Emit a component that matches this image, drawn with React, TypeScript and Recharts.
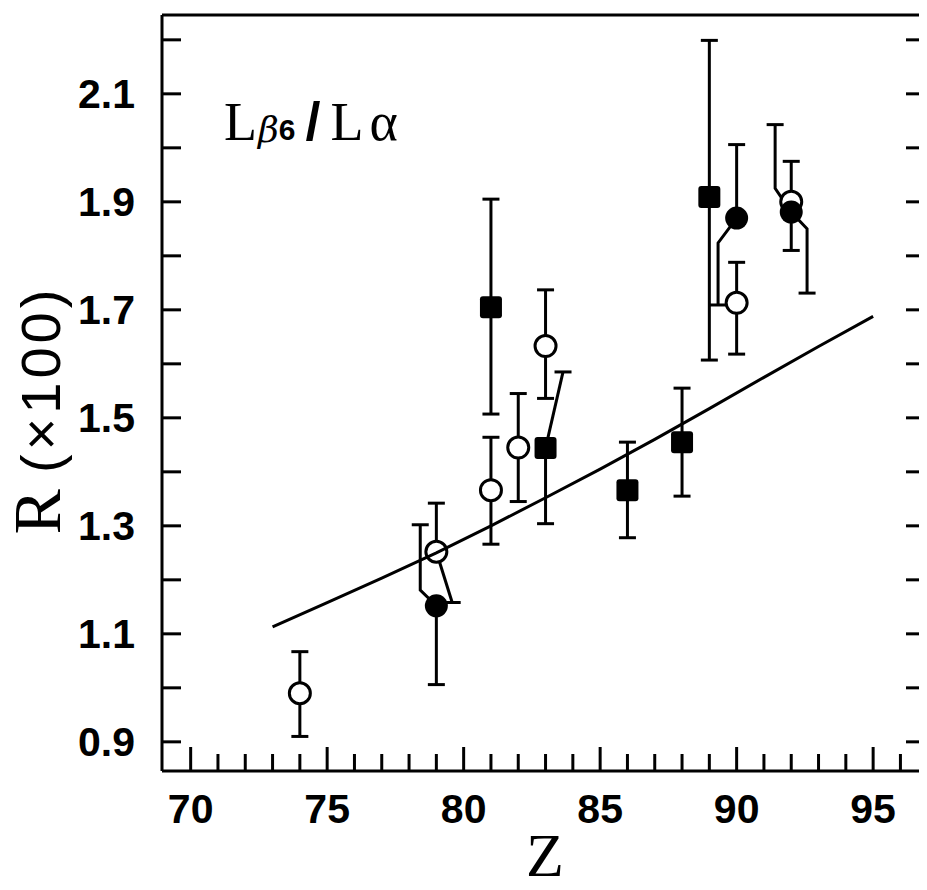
import React from 'react';
import {
  ScatterChart,
  Scatter,
  XAxis,
  YAxis,
  ErrorBar,
  Customized,
} from 'recharts';

// open circles
const openZ = [74, 79, 81, 82, 83, 90, 92];
const openR = [0.99, 1.252, 1.366, 1.445, 1.633, 1.713, 1.9];
const openLow = [0.08, 0, 0.1, 0.1, 0.097, 0.095, 0.09];
const openHigh = [0.077, 0.09, 0.098, 0.1, 0.104, 0.075, 0.075];

// filled circles
const filledZ = [79, 90, 92];
const filledR = [1.152, 1.87, 1.881];
const filledLow = [0.146, 0, 0];
const filledHigh = [0, 0.136, 0];

// filled squares
const squareZ = [81, 83, 86, 88, 89];
const squareR = [1.705, 1.444, 1.366, 1.455, 1.909];
const squareLow = [0.198, 0.14, 0.088, 0.1, 0.302];
const squareHigh = [0.2, 0, 0.089, 0.1, 0.29];

// error bars drawn beside the point (last point carries the cap)
const offsetZ = [
  [79, 79.58],
  [79, 78.41, 78.41],
  [83, 83.64],
  [90, 89.32, 89.32],
  [92, 91.41, 91.41],
  [92, 92.58, 92.58],
];
const offsetR = [
  [1.252, 1.158],
  [1.152, 1.181, 1.302],
  [1.444, 1.585],
  [1.87, 1.824, 1.709],
  [1.881, 1.925, 2.043],
  [1.881, 1.85, 1.731],
];

// calculated curve
const theoryZ = [73, 75, 77, 79, 81, 83, 85, 87, 89, 91, 93, 95];
const theoryR = [1.113, 1.158, 1.203, 1.25, 1.3, 1.352, 1.405, 1.46, 1.517, 1.575, 1.632, 1.688];

const xTicks = [70, 71, 72, 73, 74, 75, 76, 77, 78, 79, 80, 81, 82, 83, 84, 85, 86, 87, 88, 89, 90, 91, 92, 93, 94, 95, 96];
const yTicks = [0.9, 1.0, 1.1, 1.2, 1.3, 1.4, 1.5, 1.6, 1.7, 1.8, 1.9, 2.0, 2.1, 2.2];
const yLabels = ['0.9', '1.1', '1.3', '1.5', '1.7', '1.9', '2.1'];

const pts = (zs: number[], rs: number[], lo?: number[], hi?: number[]) =>
  zs.map((z, i) => ({ z, r: rs[i], err: lo && hi ? [lo[i], hi[i]] : undefined }));

const openData = pts(openZ, openR, openLow, openHigh);
const filledData = pts(filledZ, filledR, filledLow, filledHigh);
const squareData = pts(squareZ, squareR, squareLow, squareHigh);
const theoryData = pts(theoryZ, theoryR);
const offsetData = offsetZ.map((zs, k) =>
  zs.map((z, i) => ({ z, r: offsetR[k][i], cap: i === zs.length - 1 }))
);

const INK = '#000';
const SERIF = '"Liberation Serif", "Times New Roman", serif';
const SANS = '"Liberation Sans", Arial, sans-serif';
const tickFont = { fontFamily: SANS, fontWeight: 700, fontSize: 41 };

const OpenCircle = ({ cx, cy }: any) => (
  <circle cx={cx} cy={cy} r={10.5} fill="#fff" stroke={INK} strokeWidth={3} />
);
const FilledCircle = ({ cx, cy }: any) => <circle cx={cx} cy={cy} r={11.5} fill={INK} />;
const FilledSquare = ({ cx, cy }: any) => (
  <rect x={cx - 11} y={cy - 11} width={22} height={22} rx={3} fill={INK} />
);
const PathCap = ({ cx, cy, payload }: any) =>
  payload && payload.cap ? (
    <line x1={cx - 8.5} x2={cx + 8.5} y1={cy} y2={cy} stroke={INK} strokeWidth={3} />
  ) : (
    <g />
  );
const NoDot = () => <g />;

const BottomTick = ({ x, y, payload }: any) => {
  const v = payload.value;
  const major = v % 5 === 0;
  return (
    <g>
      <line x1={x} x2={x} y1={y} y2={y - (major ? 24 : 17)} stroke={INK} strokeWidth={3} />
      {major && (
        <text x={x} y={y + 52} textAnchor="middle" fill={INK} {...tickFont}>
          {v}
        </text>
      )}
    </g>
  );
};

const TopTick = ({ x, y, payload }: any) => {
  const major = payload.value % 5 === 0;
  return <line x1={x} x2={x} y1={y} y2={y + (major ? 22 : 17)} stroke={INK} strokeWidth={3} />;
};

const LeftTick = ({ x, y, payload }: any) => {
  const label = payload.value.toFixed(1);
  return (
    <g>
      <line x1={x} x2={x + 19} y1={y} y2={y} stroke={INK} strokeWidth={3} />
      {yLabels.includes(label) && (
        <text x={x - 27} y={y + 14} textAnchor="end" fill={INK} {...tickFont}>
          {label}
        </text>
      )}
    </g>
  );
};

const RightTick = ({ x, y }: any) => (
  <line x1={x} x2={x - 19} y1={y} y2={y} stroke={INK} strokeWidth={3} />
);

const Texts = () => (
  <g fill={INK}>
    <text x={224} y={140}>
      <tspan fontFamily={SERIF} fontSize={54}>L</tspan>
      <tspan fontFamily='"DejaVu Serif", serif' fontStyle="italic" fontSize={36} dx={1} dy={2}>β</tspan>
      <tspan fontFamily={SANS} fontWeight={700} fontSize={30} dy={-2}>6</tspan>
      <tspan fontFamily={SANS} fontWeight={900} fontSize={54} dx={10}>/</tspan>
      <tspan fontFamily={SERIF} fontSize={54} dx={10}>L</tspan>
      <tspan fontFamily={SERIF} fontSize={54} dx={6}>α</tspan>
    </text>
    <text transform="translate(60,410) rotate(-90)" textAnchor="middle">
      <tspan fontFamily={SERIF} fontSize={68}>R</tspan>
      <tspan fontFamily={SANS} fontSize={56} letterSpacing={4} dx={16}>(×100)</tspan>
    </text>
    <text x={545} y={876} textAnchor="middle" fontFamily={SERIF} fontSize={62}>
      Z
    </text>
  </g>
);

export default function App() {
  return (
    <div style={{ width: 927, height: 890, margin: '-8px 0 0 -8px', background: '#fff' }}>
      <ScatterChart width={927} height={890} margin={{ top: 14, right: 1, bottom: 9, left: 0 }}>
        <XAxis
          dataKey="z"
          type="number"
          domain={[68.95, 96.9]}
          ticks={xTicks}
          interval={0}
          allowDataOverflow
          height={110}
          tickSize={0}
          tickMargin={0}
          tickLine={false}
          axisLine={{ stroke: INK, strokeWidth: 3 }}
          tick={<BottomTick />}
        />
        <XAxis
          xAxisId="top"
          orientation="top"
          type="number"
          domain={[68.95, 96.9]}
          ticks={xTicks}
          interval={0}
          allowDataOverflow
          height={1}
          tickSize={0}
          tickMargin={0}
          tickLine={false}
          axisLine={{ stroke: INK, strokeWidth: 3 }}
          tick={<TopTick />}
        />
        <YAxis
          dataKey="r"
          type="number"
          domain={[0.846, 2.246]}
          ticks={yTicks}
          interval={0}
          allowDataOverflow
          width={162}
          tickSize={0}
          tickMargin={0}
          tickLine={false}
          axisLine={{ stroke: INK, strokeWidth: 3 }}
          tick={<LeftTick />}
        />
        <YAxis
          yAxisId="right"
          orientation="right"
          type="number"
          domain={[0.846, 2.246]}
          ticks={yTicks}
          interval={0}
          allowDataOverflow
          width={1}
          tickSize={0}
          tickMargin={0}
          tickLine={false}
          axisLine={{ stroke: INK, strokeWidth: 3 }}
          tick={<RightTick />}
        />

        {offsetData.map((d, k) => (
          <Scatter
            key={k}
            data={d}
            line={{ stroke: INK, strokeWidth: 3 }}
            lineType="joint"
            shape={<PathCap />}
            isAnimationActive={false}
          />
        ))}

        <Scatter data={openData} shape={<OpenCircle />} isAnimationActive={false}>
          <ErrorBar dataKey="err" direction="y" width={8.5} stroke={INK} strokeWidth={3} />
        </Scatter>
        <Scatter data={filledData} shape={<FilledCircle />} isAnimationActive={false}>
          <ErrorBar dataKey="err" direction="y" width={8.5} stroke={INK} strokeWidth={3} />
        </Scatter>
        <Scatter data={squareData} shape={<FilledSquare />} isAnimationActive={false}>
          <ErrorBar dataKey="err" direction="y" width={8.5} stroke={INK} strokeWidth={3} />
        </Scatter>

        <Scatter
          data={theoryData}
          line={{ stroke: INK, strokeWidth: 3 }}
          lineType="joint"
          shape={<NoDot />}
          isAnimationActive={false}
        />

        <Customized component={Texts} />
      </ScatterChart>
    </div>
  );
}
